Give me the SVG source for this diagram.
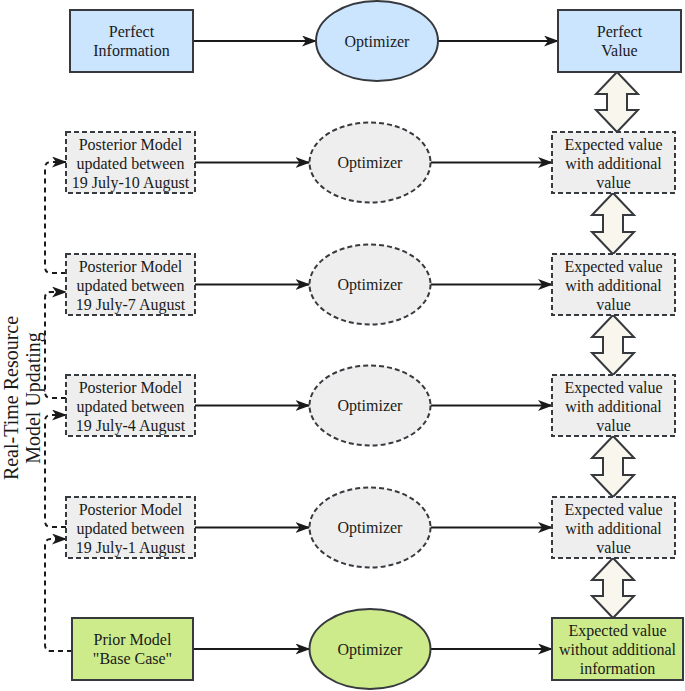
<svg xmlns="http://www.w3.org/2000/svg" width="685" height="691" viewBox="0 0 685 691">
<style>
text{font-family:"Liberation Serif","Times New Roman",serif;font-size:16px;fill:#1a1a1a;text-anchor:middle}
.blue{fill:#cce5ff;stroke:#36393d;stroke-width:2}
.grey{fill:#eeeeee;stroke:#36393d;stroke-width:2;stroke-dasharray:5 3}
.green{fill:#cdeb8b;stroke:#36393d;stroke-width:2}
.dbl{fill:#f9f7ed;stroke:#36393d;stroke-width:2;stroke-linejoin:miter}
.arr{fill:none;stroke:#1a1a1a;stroke-width:2;marker-end:url(#ah)}
.upd{fill:none;stroke:#1a1a1a;stroke-width:2;stroke-dasharray:5 4;marker-end:url(#ah)}
.side{font-size:20px}
</style>
<defs>
<marker id="ah" markerUnits="userSpaceOnUse" markerWidth="15" markerHeight="11" viewBox="0 0 15 11" refX="14" refY="5.5" orient="auto">
<path d="M0,0 L15,5.5 L0,11 L4,5.5 Z" fill="#1a1a1a"/>
</marker>
</defs>
<rect width="685" height="691" fill="#ffffff"/>

<g id="connectors">
<path class="arr" d="M193,41 H316"/>
<path class="arr" d="M438,41 H558"/>
<path class="arr" d="M195,162.5 H309.5"/>
<path class="arr" d="M430.5,162.5 H552"/>
<path class="arr" d="M195,284.5 H309.5"/>
<path class="arr" d="M430.5,284.5 H552"/>
<path class="arr" d="M195,405.5 H309.5"/>
<path class="arr" d="M430.5,405.5 H552"/>
<path class="arr" d="M195,527.5 H309.5"/>
<path class="arr" d="M430.5,527.5 H552"/>
<path class="arr" d="M193,649 H309.5"/>
<path class="arr" d="M430.5,649 H552"/>
<path class="upd" d="M72,651 H51 Q45,651 45,645 V545 Q45,539 51,539 H66"/>
<path class="upd" d="M66,527 H51 Q45,527 45,521 V421 Q45,415 51,415 H66"/>
<path class="upd" d="M66,398 H51 Q45,398 45,392 V298 Q45,292 51,292 H66"/>
<path class="upd" d="M66,273 H51 Q45,273 45,267 V168 Q45,162 51,162 H66"/>
<path class="dbl" d="M617,72 L638,94 L627,94 L627,110 L638,110 L617,132 L596,110 L607,110 L607,94 L596,94 Z"/>
<path class="dbl" d="M613,193 L634,215 L623,215 L623,232 L634,232 L613,254 L592,232 L603,232 L603,215 L592,215 Z"/>
<path class="dbl" d="M613,315 L634,337 L623,337 L623,353 L634,353 L613,375 L592,353 L603,353 L603,337 L592,337 Z"/>
<path class="dbl" d="M613,436 L634,458 L623,458 L623,475 L634,475 L613,497 L592,475 L603,475 L603,458 L592,458 Z"/>
<path class="dbl" d="M613,558 L634,580 L623,580 L623,596 L634,596 L613,618 L592,596 L603,596 L603,580 L592,580 Z"/>
</g>

<g id="side-label">
<text class="side" transform="translate(18,398) rotate(-90)">Real-Time Resource</text>
<text class="side" transform="translate(40,398) rotate(-90)">Model Updating</text>
</g>

<g id="perfect-information">
<rect class="blue" x="70" y="10" width="123" height="62"/>
<text x="131.5" y="37">Perfect</text>
<text x="131.5" y="56">Information</text>
</g>
<g id="optimizer-1">
<ellipse class="blue" cx="377" cy="41" rx="61" ry="40"/>
<text x="377" y="46.5">Optimizer</text>
</g>
<g id="perfect-value">
<rect class="blue" x="558" y="10" width="123" height="62"/>
<text x="619.5" y="37">Perfect</text>
<text x="619.5" y="56">Value</text>
</g>

<g id="posterior-10aug">
<rect class="grey" x="66" y="132" width="129" height="61"/>
<text x="130.5" y="149.5">Posterior Model</text>
<text x="130.5" y="168.5">updated between</text>
<text x="130.5" y="187.5">19 July-10 August</text>
</g>
<g id="optimizer-2">
<ellipse class="grey" cx="370" cy="162.5" rx="60.5" ry="40"/>
<text x="370" y="168">Optimizer</text>
</g>
<g id="expected-2">
<rect class="grey" x="552" y="132" width="123" height="61"/>
<text x="613.5" y="149.5">Expected value</text>
<text x="613.5" y="168.5">with additional</text>
<text x="613.5" y="187.5">value</text>
</g>

<g id="posterior-7aug">
<rect class="grey" x="66" y="254" width="129" height="61"/>
<text x="130.5" y="271.5">Posterior Model</text>
<text x="130.5" y="290.5">updated between</text>
<text x="130.5" y="309.5">19 July-7 August</text>
</g>
<g id="optimizer-3">
<ellipse class="grey" cx="370" cy="284.5" rx="60.5" ry="40"/>
<text x="370" y="290">Optimizer</text>
</g>
<g id="expected-3">
<rect class="grey" x="552" y="254" width="123" height="61"/>
<text x="613.5" y="271.5">Expected value</text>
<text x="613.5" y="290.5">with additional</text>
<text x="613.5" y="309.5">value</text>
</g>

<g id="posterior-4aug">
<rect class="grey" x="66" y="375" width="129" height="61"/>
<text x="130.5" y="392.5">Posterior Model</text>
<text x="130.5" y="411.5">updated between</text>
<text x="130.5" y="430.5">19 July-4 August</text>
</g>
<g id="optimizer-4">
<ellipse class="grey" cx="370" cy="405.5" rx="60.5" ry="40"/>
<text x="370" y="411">Optimizer</text>
</g>
<g id="expected-4">
<rect class="grey" x="552" y="375" width="123" height="61"/>
<text x="613.5" y="392.5">Expected value</text>
<text x="613.5" y="411.5">with additional</text>
<text x="613.5" y="430.5">value</text>
</g>

<g id="posterior-1aug">
<rect class="grey" x="66" y="497" width="129" height="61"/>
<text x="130.5" y="514.5">Posterior Model</text>
<text x="130.5" y="533.5">updated between</text>
<text x="130.5" y="552.5">19 July-1 August</text>
</g>
<g id="optimizer-5">
<ellipse class="grey" cx="370" cy="527.5" rx="60.5" ry="40"/>
<text x="370" y="533">Optimizer</text>
</g>
<g id="expected-5">
<rect class="grey" x="552" y="497" width="123" height="61"/>
<text x="613.5" y="514.5">Expected value</text>
<text x="613.5" y="533.5">with additional</text>
<text x="613.5" y="552.5">value</text>
</g>

<g id="prior-model">
<rect class="green" x="72" y="618" width="121" height="62"/>
<text x="132.5" y="645">Prior Model</text>
<text x="132.5" y="664">"Base Case"</text>
</g>
<g id="optimizer-6">
<ellipse class="green" cx="370" cy="649" rx="60.5" ry="40"/>
<text x="370" y="654.5">Optimizer</text>
</g>
<g id="expected-base">
<rect class="green" x="552" y="618" width="131" height="62"/>
<text x="617.5" y="636">Expected value</text>
<text x="617.5" y="655">without additional</text>
<text x="617.5" y="674">information</text>
</g>
</svg>
